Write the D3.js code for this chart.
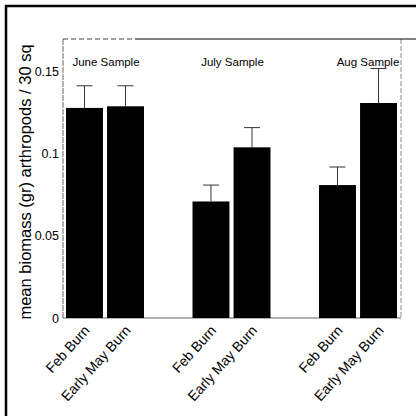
<!DOCTYPE html>
<html><head><meta charset="utf-8">
<script src="https://cdn.jsdelivr.net/npm/d3@7"></script>
<style>body{margin:0;background:#fff}svg{display:block}text{font-family:"Liberation Sans",Arial,sans-serif;fill:#000}</style>
</head><body><svg id="c" width="416" height="416"></svg>
<script>
const groups = ["June Sample", "July Sample", "Aug Sample"];
const treatments = ["Feb Burn", "Early May Burn"];
const meanValues = [[0.128, 0.129], [0.071, 0.104], [0.081, 0.131]];
const errorTops = [[0.1415, 0.1415], [0.081, 0.116], [0.092, 0.152]];
const yTicks = [0, 0.05, 0.1, 0.15];
const yTickLabels = ["0", "0.05", "0.1", "0.15"];
const yTitle = "mean biomass (gr) arthropods / 30 sq";

const svg = d3.select("#c");
const L = 63, R = 401, T = 39, B = 318;

// outer frame
svg.append("path").attr("d", "M6,416V6H416").attr("fill", "none").attr("stroke", "#000").attr("stroke-width", 2.5);

const y = d3.scaleLinear().domain([0, 0.17]).range([B, T]);
const x0 = d3.scaleBand().domain(groups).range([66, 66 + 3 * 126.5]).padding(0);
const x1 = d3.scaleBand().domain(treatments).range([0, 78]).paddingInner(0.1).paddingOuter(0);

// plot frame
svg.append("line").attr("x1", L).attr("x2", L).attr("y1", T).attr("y2", B).attr("stroke", "#666").attr("stroke-width", 1).attr("stroke-dasharray", "6,1");
svg.append("line").attr("x1", R).attr("x2", R).attr("y1", T).attr("y2", B).attr("stroke", "#888").attr("stroke-width", 1).attr("stroke-dasharray", "5,2");
svg.append("line").attr("x1", L).attr("x2", 135).attr("y1", T).attr("y2", T).attr("stroke", "#444").attr("stroke-width", 1).attr("stroke-dasharray", "5,3");
svg.append("line").attr("x1", 135).attr("x2", 416).attr("y1", T).attr("y2", T).attr("stroke", "#000").attr("stroke-width", 1);
svg.append("line").attr("x1", L).attr("x2", R).attr("y1", B).attr("y2", B).attr("stroke", "#666").attr("stroke-width", 1);

// y axis
const yAxis = d3.axisLeft(y).tickValues(yTicks).tickSize(0).tickPadding(4)
  .tickFormat((d, i) => yTickLabels[i]);
const ya = svg.append("g").attr("transform", `translate(${L},0)`).call(yAxis);
ya.select(".domain").remove();
ya.selectAll("text").style("font-size", "12.5px").attr("font-family", null);

// y title
svg.append("text").attr("transform", `translate(31,182) rotate(-90)`)
  .attr("text-anchor", "middle").style("font-size", "16.5px").text(yTitle);

// bars
const flat = [];
groups.forEach((g, gi) => treatments.forEach((t, ti) => flat.push({g, t, v: meanValues[gi][ti], e: errorTops[gi][ti]})));

const bw = x1.bandwidth();
svg.append("g").selectAll("rect").data(flat).join("rect")
  .attr("x", d => x0(d.g) + x1(d.t)).attr("width", bw)
  .attr("y", d => y(d.v)).attr("height", d => y(0) - y(d.v)).attr("fill", "#000");

// error bars
const eb = svg.append("g").attr("stroke", "#333").attr("stroke-width", 1);
flat.forEach(d => {
  const cx = x0(d.g) + x1(d.t) + bw / 2;
  eb.append("line").attr("x1", cx).attr("x2", cx).attr("y1", y(d.v)).attr("y2", y(d.e));
  eb.append("line").attr("x1", cx - 8).attr("x2", cx + 8).attr("y1", y(d.e)).attr("y2", y(d.e));
});

// group labels
svg.append("g").selectAll("text").data(groups).join("text")
  .attr("x", (d, i) => x0(d) + 39 + (i === 2 ? 10 : 1)).attr("y", 66)
  .attr("text-anchor", "middle").style("font-size", "11.5px").text(d => d);

// x labels
svg.append("g").selectAll("text").data(flat).join("text")
  .attr("transform", d => `translate(${x0(d.g) + x1(d.t) + bw / 2 + 6},${B + 13}) rotate(-48)`)
  .attr("text-anchor", "end").style("font-size", "14px").text(d => d.t);
</script></body></html>
